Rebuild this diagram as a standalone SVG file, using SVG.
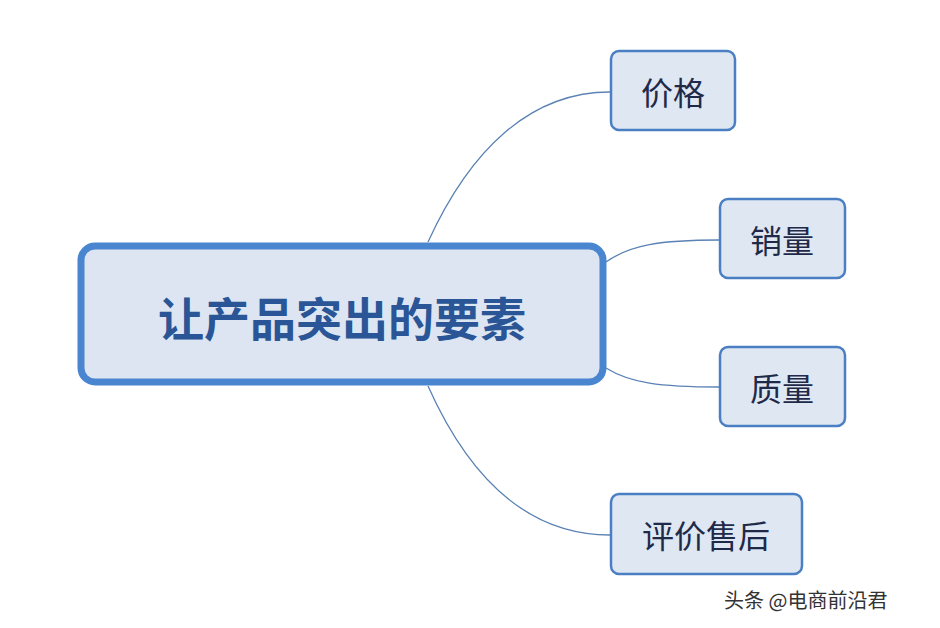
<svg xmlns="http://www.w3.org/2000/svg" width="940" height="628" viewBox="0 0 940 628">
<style>
.c{fill:none;stroke:#5a82b4;stroke-width:1.3}
.n{fill:#dfe7f3;stroke:#4a7fc4;stroke-width:2.5}
.t{font-family:"Noto Sans CJK SC",sans-serif;font-size:32px;fill:#1e2a48;text-anchor:middle;dominant-baseline:central}
</style>
<rect width="940" height="628" fill="#fff"/>
<g id="connectors">
<path class="c" d="M428,242 C470,150 530,92 610,92"/>
<path class="c" d="M606,262 C630,245 660,240 719,240"/>
<path class="c" d="M606,368 C630,383 660,387 719,387"/>
<path class="c" d="M428,386 C470,480 530,535 610,535"/>
</g>
<g id="root">
<rect x="81" y="246" width="522" height="136" rx="14" fill="#dce5f1" stroke="#4a86d0" stroke-width="7"/>
<text x="342" y="316" class="t" style="font-size:46px;font-weight:bold;fill:#2a5596">让产品突出的要素</text>
</g>
<g id="n1"><rect class="n" x="611" y="51" width="124" height="79" rx="8"/><text class="t" x="673" y="91">价格</text></g>
<g id="n2"><rect class="n" x="720" y="199" width="125" height="79" rx="8"/><text class="t" x="782" y="239">销量</text></g>
<g id="n3"><rect class="n" x="720" y="347" width="125" height="79" rx="8"/><text class="t" x="782" y="387">质量</text></g>
<g id="n4"><rect class="n" x="611" y="494" width="191" height="80" rx="8"/><text class="t" x="706" y="534">评价售后</text></g>
<text x="724" y="608" style="font-family:'Noto Sans CJK SC',sans-serif;font-size:20px;fill:#333">头条 @电商前沿君</text>
</svg>
